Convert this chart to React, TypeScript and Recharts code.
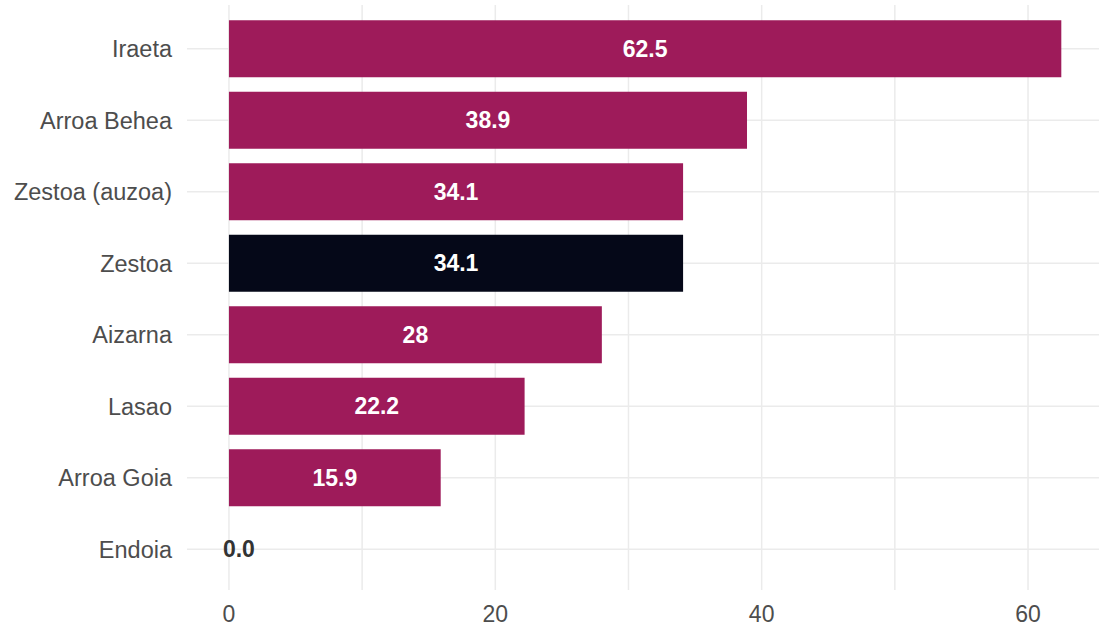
import React from 'react';
import { BarChart, Bar, XAxis, YAxis, CartesianGrid, Cell, LabelList } from 'recharts';

const categories = ['Iraeta', 'Arroa Behea', 'Zestoa (auzoa)', 'Zestoa', 'Aizarna', 'Lasao', 'Arroa Goia', 'Endoia'];
const values = [62.5, 38.9, 34.1, 34.1, 28, 22.2, 15.9, 0];
const labels = ['62.5', '38.9', '34.1', '34.1', '28', '22.2', '15.9', '0.0'];
const highlight = 'Zestoa';
const xTicks = [0, 20, 40, 60];
const gridValues = [0, 10, 20, 30, 40, 50, 60];

const data = categories.map((name, i) => ({ name, value: values[i], label: labels[i] }));

const FONT = '"Liberation Sans", Arial, sans-serif';

const BarLabel = (props: any) => {
  const { x, y, width, height, index } = props;
  const d = data[index];
  const cy = y + height / 2;
  if (d.value === 0) {
    return (
      <text x={x - 6} y={cy} dy="0.35em" textAnchor="start" fill="#333333"
        fontFamily={FONT} fontSize={23} fontWeight="bold">
        {d.label}
      </text>
    );
  }
  return (
    <text x={x + width / 2} y={cy} dy="0.35em" textAnchor="middle" fill="#ffffff"
      fontFamily={FONT} fontSize={23} fontWeight="bold">
      {d.label}
    </text>
  );
};

const barColor = (d: { name: string; value: number }) => {
  if (d.value === 0) return 'transparent';
  return d.name === highlight ? '#050818' : '#9e1b5a';
};

export default function App() {
  return (
    <div style={{ position: 'absolute', left: 0, top: 0, background: '#fff' }}>
      <BarChart
        width={1099}
        height={628}
        data={data}
        layout="vertical"
        margin={{ top: 5, right: 0, bottom: 0, left: 0 }}
        barCategoryGap="10%"
      >
        <CartesianGrid stroke="#ebebeb" strokeWidth={1.5} verticalValues={gridValues} syncWithTicks />
        <XAxis
          type="number"
          dataKey="value"
          domain={[-3.15, 65.33]}
          ticks={xTicks}
          allowDataOverflow
          axisLine={false}
          tickLine={false}
          tickSize={0}
          tickMargin={16}
          height={38}
          tick={{ fill: '#4d4d4d', fontSize: 23, fontFamily: FONT }}
        />
        <YAxis
          type="category"
          dataKey="name"
          width={187}
          axisLine={false}
          tickLine={false}
          tickSize={0}
          tickMargin={15}
          padding={{ top: 8, bottom: 5 }}
          tick={{ fill: '#4d4d4d', fontSize: 23.5, fontFamily: FONT }}
        />
        <Bar dataKey="value" isAnimationActive={false} minPointSize={1}>
          {data.map((d) => (
            <Cell key={d.name} fill={barColor(d)} />
          ))}
          <LabelList dataKey="label" content={BarLabel} />
        </Bar>
      </BarChart>
    </div>
  );
}
